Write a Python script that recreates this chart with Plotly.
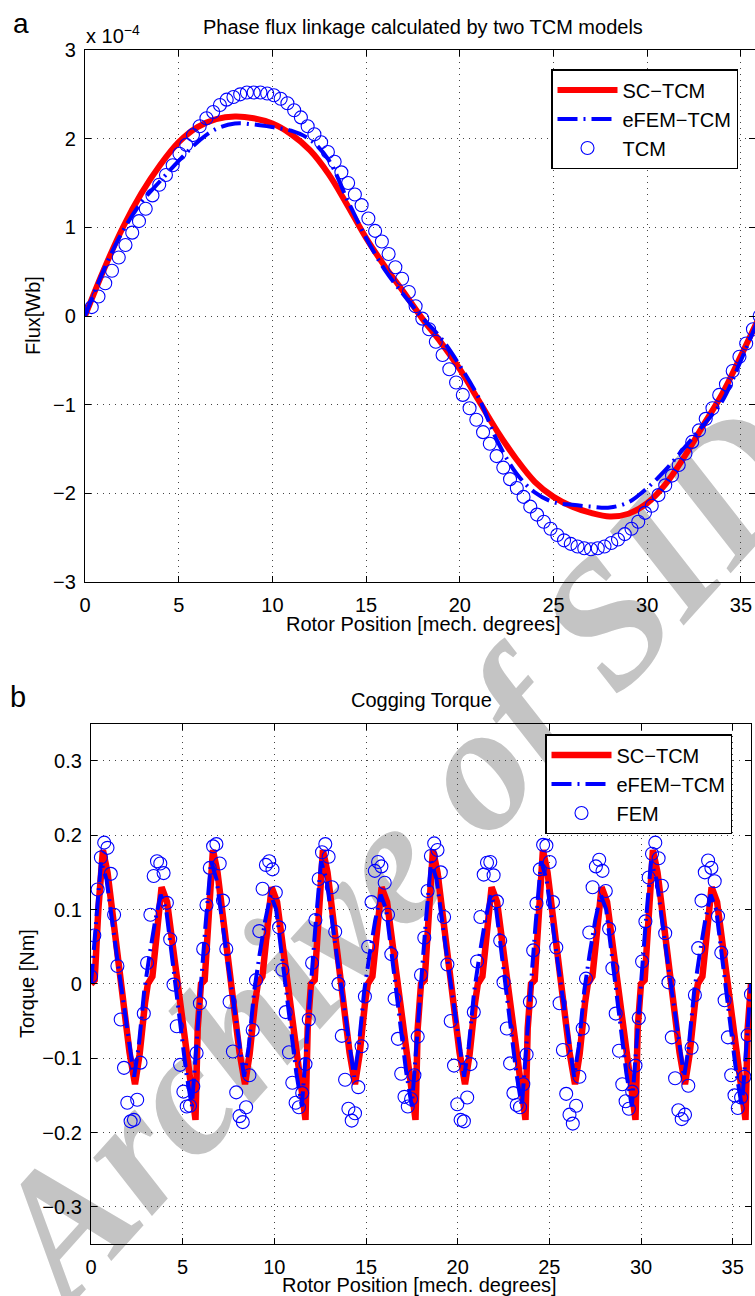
import plotly.graph_objects as go

W, H = 755, 1296

# ---------------- panel a : phase flux linkage (units of 1e-4 Wb) ----------------
sc_flux_x = list(range(0, 37))
sc_flux_y = [0.00, 0.52, 0.99, 1.38, 1.70, 1.96, 2.13, 2.22, 2.25, 2.23, 2.17, 2.05, 1.87,
             1.60, 1.25, 0.88, 0.56, 0.27, -0.03, -0.30, -0.60, -0.95, -1.30, -1.61, -1.87,
             -2.04, -2.15, -2.22, -2.26, -2.23, -2.11, -1.89, -1.58, -1.23, -0.88, -0.45, 0.00]
efem_flux_y = [0.00, 0.52, 0.95, 1.28, 1.52, 1.75, 1.96, 2.11, 2.17, 2.16, 2.13, 2.09, 1.99,
               1.76, 1.31, 0.88, 0.52, 0.24, -0.02, -0.25, -0.56, -0.92, -1.41, -1.77, -1.99,
               -2.10, -2.13, -2.15, -2.16, -2.10, -1.94, -1.73, -1.48, -1.23, -0.96, -0.50, 0.00]
tcm_x = [round(0.36 * i, 2) for i in range(1, 101)]
tcm_y = [0.10, 0.22, 0.37, 0.51, 0.66, 0.80, 0.94, 1.07, 1.21, 1.36,
         1.48, 1.59, 1.70, 1.83, 1.93, 2.04, 2.14, 2.23, 2.30, 2.38,
         2.44, 2.47, 2.50, 2.52, 2.52, 2.52, 2.51, 2.49, 2.45, 2.40,
         2.32, 2.24, 2.14, 2.05, 1.96, 1.85, 1.74, 1.62, 1.50, 1.37,
         1.25, 1.10, 0.96, 0.84, 0.70, 0.55, 0.42, 0.27, 0.11, -0.03,
         -0.15, -0.29, -0.44, -0.60, -0.75, -0.89, -1.04, -1.17, -1.31, -1.44,
         -1.58, -1.71, -1.84, -1.94, -2.04, -2.15, -2.24, -2.32, -2.40, -2.47,
         -2.53, -2.57, -2.60, -2.62, -2.63, -2.62, -2.60, -2.56, -2.52, -2.46,
         -2.40, -2.32, -2.22, -2.14, -2.02, -1.91, -1.80, -1.68, -1.55, -1.42,
         -1.29, -1.16, -1.04, -0.89, -0.77, -0.62, -0.46, -0.31, -0.15, 0.00]

# ---------------- panel b : cogging torque (Nm) ----------------
sc_torque_x = [
    0.00, 0.20, 0.40, 0.65, 0.90, 1.10, 1.45, 1.80, 2.10, 2.40, 2.65, 2.95, 3.10, 3.35, 3.60, 3.85, 4.15, 4.55, 4.95, 5.25, 5.50, 5.70, 5.82,
    6.00, 6.20, 6.40, 6.65, 6.90, 7.10, 7.45, 7.80, 8.10, 8.40, 8.65, 8.95, 9.10, 9.35, 9.60, 9.85, 10.15, 10.55, 10.95, 11.25, 11.50, 11.70, 11.82,
    12.00, 12.20, 12.40, 12.65, 12.90, 13.10, 13.45, 13.80, 14.10, 14.40, 14.65, 14.95, 15.10, 15.35, 15.60, 15.85, 16.15, 16.55, 16.95, 17.25, 17.50, 17.70, 17.82,
    18.00, 18.20, 18.40, 18.65, 18.90, 19.10, 19.45, 19.80, 20.10, 20.40, 20.65, 20.95, 21.10, 21.35, 21.60, 21.85, 22.15, 22.55, 22.95, 23.25, 23.50, 23.70, 23.82,
    24.00, 24.20, 24.40, 24.65, 24.90, 25.10, 25.45, 25.80, 26.10, 26.40, 26.65, 26.95, 27.10, 27.35, 27.60, 27.85, 28.15, 28.55, 28.95, 29.25, 29.50, 29.70, 29.82,
    30.00, 30.20, 30.40, 30.65, 30.90, 31.10, 31.45, 31.80, 32.10, 32.40, 32.65, 32.95, 33.10, 33.35, 33.60, 33.85, 34.15, 34.55, 34.95, 35.25, 35.50, 35.70, 35.82,
    36.00]
sc_torque_y = [
    0.000, 0.005, 0.100, 0.180, 0.150, 0.110, 0.030, -0.030, -0.092, -0.135, -0.095, -0.025, 0.000, 0.010, 0.065, 0.130, 0.110, 0.030, -0.048, -0.105, -0.150, -0.183, -0.060,
    0.000, 0.005, 0.100, 0.180, 0.150, 0.110, 0.030, -0.030, -0.092, -0.135, -0.095, -0.025, 0.000, 0.010, 0.065, 0.130, 0.110, 0.030, -0.048, -0.105, -0.150, -0.183, -0.060,
    0.000, 0.005, 0.100, 0.180, 0.150, 0.110, 0.030, -0.030, -0.092, -0.135, -0.095, -0.025, 0.000, 0.010, 0.065, 0.130, 0.110, 0.030, -0.048, -0.105, -0.150, -0.183, -0.060,
    0.000, 0.005, 0.100, 0.180, 0.150, 0.110, 0.030, -0.030, -0.092, -0.135, -0.095, -0.025, 0.000, 0.010, 0.065, 0.130, 0.110, 0.030, -0.048, -0.105, -0.150, -0.183, -0.060,
    0.000, 0.005, 0.100, 0.180, 0.150, 0.110, 0.030, -0.030, -0.092, -0.135, -0.095, -0.025, 0.000, 0.010, 0.065, 0.130, 0.110, 0.030, -0.048, -0.105, -0.150, -0.183, -0.060,
    0.000, 0.005, 0.100, 0.180, 0.150, 0.110, 0.030, -0.030, -0.092, -0.135, -0.095, -0.025, 0.000, 0.010, 0.065, 0.130, 0.110, 0.030, -0.048, -0.105, -0.150, -0.183, -0.060,
    0.000]
efem_torque_x = [
    0.00, 0.25, 0.55, 0.85, 1.15, 1.45, 1.80, 2.10, 2.35, 2.60, 2.90, 3.20, 3.50, 3.80, 4.10, 4.50, 4.90, 5.20, 5.50, 5.75,
    6.00, 6.25, 6.55, 6.85, 7.15, 7.45, 7.80, 8.10, 8.35, 8.60, 8.90, 9.20, 9.50, 9.80, 10.10, 10.50, 10.90, 11.20, 11.50, 11.75,
    12.00, 12.25, 12.55, 12.85, 13.15, 13.45, 13.80, 14.10, 14.35, 14.60, 14.90, 15.20, 15.50, 15.80, 16.10, 16.50, 16.90, 17.20, 17.50, 17.75,
    18.00, 18.25, 18.55, 18.85, 19.15, 19.45, 19.80, 20.10, 20.35, 20.60, 20.90, 21.20, 21.50, 21.80, 22.10, 22.50, 22.90, 23.20, 23.50, 23.75,
    24.00, 24.25, 24.55, 24.85, 25.15, 25.45, 25.80, 26.10, 26.35, 26.60, 26.90, 27.20, 27.50, 27.80, 28.10, 28.50, 28.90, 29.20, 29.50, 29.75,
    30.00, 30.25, 30.55, 30.85, 31.15, 31.45, 31.80, 32.10, 32.35, 32.60, 32.90, 33.20, 33.50, 33.80, 34.10, 34.50, 34.90, 35.20, 35.50, 35.75,
    36.00]
efem_torque_y = [
    0.000, 0.080, 0.165, 0.140, 0.080, 0.030, -0.030, -0.085, -0.125, -0.085, -0.010, 0.040, 0.085, 0.120, 0.100, 0.020, -0.060, -0.120, -0.165, -0.090,
    0.000, 0.080, 0.165, 0.140, 0.080, 0.030, -0.030, -0.085, -0.125, -0.085, -0.010, 0.040, 0.085, 0.120, 0.100, 0.020, -0.060, -0.120, -0.165, -0.090,
    0.000, 0.080, 0.165, 0.140, 0.080, 0.030, -0.030, -0.085, -0.125, -0.085, -0.010, 0.040, 0.085, 0.120, 0.100, 0.020, -0.060, -0.120, -0.165, -0.090,
    0.000, 0.080, 0.165, 0.140, 0.080, 0.030, -0.030, -0.085, -0.125, -0.085, -0.010, 0.040, 0.085, 0.120, 0.100, 0.020, -0.060, -0.120, -0.165, -0.090,
    0.000, 0.080, 0.165, 0.140, 0.080, 0.030, -0.030, -0.085, -0.125, -0.085, -0.010, 0.040, 0.085, 0.120, 0.100, 0.020, -0.060, -0.120, -0.165, -0.090,
    0.000, 0.080, 0.165, 0.140, 0.080, 0.030, -0.030, -0.085, -0.125, -0.085, -0.010, 0.040, 0.085, 0.120, 0.100, 0.020, -0.060, -0.120, -0.165, -0.090,
    0.000]
fem_x = [round(0.18 * i, 2) for i in range(201)]
fem_y = [
    0.010, 0.065, 0.127, 0.170, 0.190, 0.183, 0.148, 0.093, 0.024, -0.048, -0.113, -0.160, -0.185, -0.183, -0.156, -0.106, -0.040,
    0.028, 0.093, 0.145, 0.165, 0.162, 0.149, 0.109, 0.060, -0.001, -0.057, -0.109, -0.145, -0.165, -0.164, -0.138, -0.093, -0.026,
    0.047, 0.106, 0.156, 0.185, 0.188, 0.162, 0.112, 0.047, -0.024, -0.091, -0.146, -0.178, -0.186, -0.166, -0.123, -0.062, 0.005,
    0.071, 0.128, 0.160, 0.165, 0.154, 0.123, 0.076, 0.019, -0.038, -0.092, -0.133, -0.160, -0.166, -0.147, -0.108, -0.048,
    0.028, 0.086, 0.141, 0.177, 0.188, 0.171, 0.130, 0.070, 0.000, -0.070, -0.129, -0.168, -0.184, -0.174, -0.139, -0.084, -0.017,
    0.050, 0.110, 0.152, 0.164, 0.158, 0.136, 0.093, 0.040, -0.020, -0.074, -0.121, -0.152, -0.165, -0.155, -0.123, -0.071,
    0.012, 0.062, 0.125, 0.172, 0.189, 0.180, 0.150, 0.090, 0.026, -0.050, -0.110, -0.162, -0.183, -0.185, -0.153, -0.108, -0.038,
    0.030, 0.090, 0.147, 0.163, 0.164, 0.146, 0.111, 0.058, 0.002, -0.060, -0.107, -0.147, -0.163, -0.166, -0.135, -0.095, -0.024,
    0.045, 0.108, 0.154, 0.187, 0.186, 0.164, 0.110, 0.049, -0.026, -0.089, -0.148, -0.176, -0.188, -0.164, -0.125, -0.060, 0.007,
    0.069, 0.130, 0.158, 0.167, 0.152, 0.125, 0.074, 0.021, -0.040, -0.090, -0.135, -0.158, -0.168, -0.145, -0.110, -0.046,
    0.030, 0.084, 0.143, 0.175, 0.190, 0.169, 0.132, 0.068, 0.002, -0.072, -0.127, -0.170, -0.182, -0.176, -0.137, -0.086, -0.015,
    0.048, 0.112, 0.150, 0.166, 0.156, 0.138, 0.091, 0.042, -0.022, -0.072, -0.123, -0.150, -0.167, -0.153, -0.125, -0.069, -0.014]

x_ticks = [0, 5, 10, 15, 20, 25, 30, 35]
flux_ticks = [-3, -2, -1, 0, 1, 2, 3]
torque_ticks = [-0.3, -0.2, -0.1, 0, 0.1, 0.2, 0.3]

RED = "#ff0000"
BLUE = "#0000ff"
FONT = "Liberation Sans, Arial, Helvetica, sans-serif"
DASHDOT = "20px,6px,2px,6px"

fig = go.Figure()

# panel a
fig.add_trace(go.Scatter(x=sc_flux_x, y=sc_flux_y, mode="lines", name="SC\u2212TCM",
                         line=dict(color=RED, width=6, shape="spline"), xaxis="x", yaxis="y", legend="legend"))
fig.add_trace(go.Scatter(x=sc_flux_x, y=efem_flux_y, mode="lines", name="eFEM\u2212TCM",
                         line=dict(color=BLUE, width=4, dash=DASHDOT, shape="spline"), xaxis="x", yaxis="y", legend="legend"))
fig.add_trace(go.Scatter(x=tcm_x, y=tcm_y, mode="markers", name="TCM",
                         marker=dict(symbol="circle-open", size=13, color=BLUE, line=dict(width=1.1, color=BLUE)),
                         xaxis="x", yaxis="y", legend="legend"))
# panel b
fig.add_trace(go.Scatter(x=sc_torque_x, y=sc_torque_y, mode="lines", name="SC\u2212TCM",
                         line=dict(color=RED, width=6.5), xaxis="x2", yaxis="y2", legend="legend2"))
fig.add_trace(go.Scatter(x=efem_torque_x, y=efem_torque_y, mode="lines", name="eFEM\u2212TCM",
                         line=dict(color=BLUE, width=4, dash=DASHDOT), xaxis="x2", yaxis="y2", legend="legend2"))
fig.add_trace(go.Scatter(x=fem_x, y=fem_y, mode="markers", name="FEM",
                         marker=dict(symbol="circle-open", size=13, color=BLUE, line=dict(width=1.1, color=BLUE)),
                         xaxis="x2", yaxis="y2", legend="legend2"))

def px_x(p):
    return p / W

def px_y(p):
    return 1 - p / H

axis_common = dict(
    automargin=False,
    showline=True, linecolor="black", linewidth=1.3, mirror="ticks",
    ticks="inside", ticklen=6, tickwidth=1, tickcolor="black",
    showgrid=True, gridcolor="#444444", gridwidth=1, griddash="1px,5px",
    zeroline=False, tickfont=dict(family=FONT, size=20, color="black"),
)

fig.update_layout(
    template="none",
    width=W, height=H, autosize=False,
    margin=dict(l=0, r=0, t=0, b=0, pad=0, autoexpand=False),
    paper_bgcolor="white", plot_bgcolor="rgba(0,0,0,0)",
    font=dict(family=FONT, size=20, color="black"),
    showlegend=True,
    xaxis=dict(domain=[px_x(85), 1.0], range=[0, 35.75], tickvals=x_ticks, anchor="y",
               ticklabelstandoff=5, **axis_common),
    yaxis=dict(domain=[px_y(582), px_y(50)], range=[-3, 3], tickvals=flux_ticks, anchor="x",
               ticklabelstandoff=4, **axis_common),
    xaxis2=dict(domain=[px_x(91), px_x(751)], range=[0, 36], tickvals=x_ticks, anchor="y2",
                ticklabelstandoff=5, **axis_common),
    yaxis2=dict(domain=[px_y(1244), px_y(723.7)], range=[-0.35, 0.35], tickvals=torque_ticks, anchor="x2",
                ticklabelstandoff=4, **axis_common),
    legend=dict(x=px_x(551), y=px_y(69), xanchor="left", yanchor="top",
                bgcolor="white", bordercolor="black", borderwidth=1.5,
                font=dict(family=FONT, size=20, color="black"), itemwidth=60, tracegroupgap=0),
    legend2=dict(x=px_x(545), y=px_y(734), xanchor="left", yanchor="top",
                 bgcolor="white", bordercolor="black", borderwidth=1.5,
                 font=dict(family=FONT, size=20, color="black"), itemwidth=60, tracegroupgap=0),
)

# watermark (drawn beneath the data)
fig.add_shape(type="rect", xref="paper", yref="paper",
              x0=px_x(284), x1=px_x(484), y0=px_y(938), y1=px_y(738),
              line=dict(width=0), fillcolor="rgba(0,0,0,0)", layer="below",
              label=dict(text="Archive of SID", textangle=-48, textposition="middle center",
                         font=dict(family="Liberation Serif", size=180, color="#c4c4c4", style="italic", weight="bold")))

ann = [
    dict(text="a", x=px_x(11), y=px_y(24), xanchor="left", yanchor="middle", font=dict(size=28)),
    dict(text="x 10<sup>\u22124</sup>", x=px_x(84), y=px_y(34), xanchor="left", yanchor="middle", font=dict(size=20)),
    dict(text="Phase flux linkage calculated by two TCM models", x=px_x(422.5), y=px_y(27),
         xanchor="center", yanchor="middle", font=dict(size=20)),
    dict(text="Rotor Position [mech. degrees]", x=px_x(423), y=px_y(624), xanchor="center", yanchor="middle",
         font=dict(size=20)),
    dict(text="Flux[Wb]", x=px_x(33), y=px_y(316), xanchor="center", yanchor="middle", textangle=-90,
         font=dict(size=20)),
    dict(text="b", x=px_x(8), y=px_y(697), xanchor="left", yanchor="middle", font=dict(size=29)),
    dict(text="Cogging Torque", x=px_x(421), y=px_y(700), xanchor="center", yanchor="middle", font=dict(size=20)),
    dict(text="Rotor Position [mech. degrees]", x=px_x(420), y=px_y(1285), xanchor="center", yanchor="middle",
         font=dict(size=20)),
    dict(text="Torque [Nm]", x=px_x(27), y=px_y(984), xanchor="center", yanchor="middle", textangle=-90,
         font=dict(size=20)),
]
for a in ann:
    a.update(xref="paper", yref="paper", showarrow=False)
    a["font"] = dict(family=FONT, color="black", **a["font"])
    fig.add_annotation(**a)

fig.write_html("out.html",
               config={"displayModeBar": False},
               post_script="document.body.style.margin='0px';document.body.style.padding='0px';"
                           "document.documentElement.style.overflow='hidden';")
